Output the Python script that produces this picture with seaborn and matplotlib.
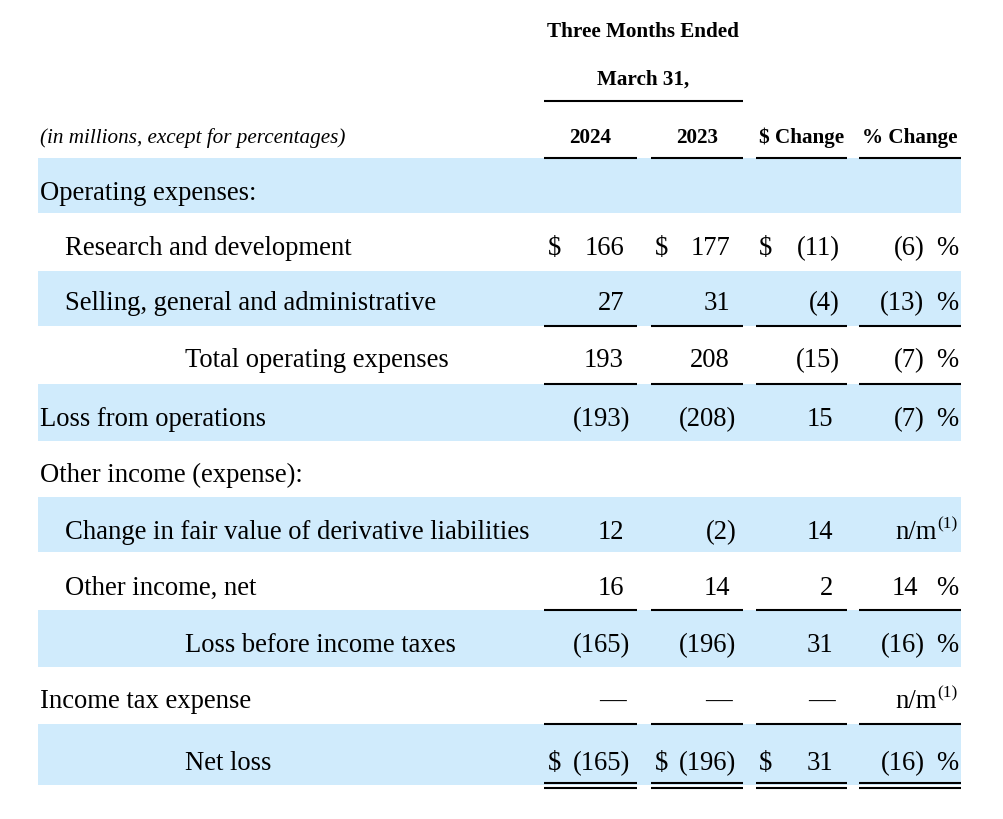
import matplotlib
matplotlib.use("Agg")
import matplotlib.pyplot as plt
import seaborn as sns
import pandas as pd

sns.set_theme(style="white")
plt.rcParams['font.family'] = ['Liberation Serif', 'DejaVu Serif']
plt.rcParams['text.color'] = 'black'

# table data
labels = ["Operating expenses:", "Research and development",
          "Selling, general and administrative", "Total operating expenses",
          "Loss from operations", "Other income (expense):",
          "Change in fair value of derivative liabilities", "Other income, net",
          "Loss before income taxes", "Income tax expense", "Net loss"]
indent = [0, 1, 1, 2, 0, 0, 1, 1, 2, 0, 2]
q2024 = [None, 166, 27, 193, -193, None, 12, 16, -165, 0, -165]
q2023 = [None, 177, 31, 208, -208, None, -2, 14, -196, 0, -196]
chg = [None, -11, -4, -15, 15, None, 14, 2, 31, 0, 31]
pct = [None, -6, -13, -7, -7, None, "n/m", 14, -16, "n/m", -16]
is_header = [True, False, False, False, False, True, False, False, False, False, False]
dollar_rows = [1, 10]
underlined = [2, 3, 7, 9]

df = pd.DataFrame({"label": labels, "indent": indent, "q2024": q2024,
                   "q2023": q2023, "chg": chg, "pct": pct, "header": is_header},
                  dtype=object)

# layout, pixel units
W, H = 1004, 820
baselines = [200, 255, 310, 367, 426, 482, 539, 595, 652, 708, 770]
bands = {0: (159, 214), 2: (272, 327), 4: (385, 442), 6: (498, 553),
         8: (611, 668), 10: (725, 786)}
indent_x = [40, 65, 185]
num_right = [624, 730, 833, 918]
dollar_x = [548, 655, 759]
col_spans = [(544, 637), (651, 743), (756, 847), (859, 961)]
shade = "#d0ebfc"
FS = 19.2
HFS = 15.2

fig = plt.figure(figsize=(W / 100, H / 100), dpi=100)
ax = fig.add_axes([0, 0, 1, 1])
ax.set_xlim(0, W)
ax.set_ylim(H, 0)
ax.axis("off")

for i, (top, bot) in bands.items():
    ax.axhspan(top, bot, xmin=38 / W, xmax=961 / W, color=shade, lw=0, zorder=0)

# header
ax.text(643, 37, "Three Months Ended", ha="center", va="baseline", fontsize=HFS, fontweight="bold")
ax.text(643, 85, "March 31,", ha="center", va="baseline", fontsize=HFS, fontweight="bold")
ax.hlines(102, 544, 743, color="black", lw=1.5)
ax.text(40, 143, "(in millions, except for percentages)", ha="left", va="baseline",
        fontsize=HFS, style="italic")
for (a, b), h in zip(col_spans, ["2024", "2023", "$ Change", "% Change"]):
    ax.text((a + b) / 2, 143, h, ha="center", va="baseline", fontsize=HFS, fontweight="bold")
    ax.hlines(159, a, b, color="black", lw=1.5, zorder=3)


def put_num(x, y, v):
    v = int(v)
    if v == 0:
        ax.text(x + 2, y, "\u2014", ha="right", va="baseline", fontsize=FS)
    elif v < 0:
        # closing paren hangs past the digit column
        ax.text(x + 6.4, y, f"({abs(v)})", ha="right", va="baseline", fontsize=FS)
    else:
        ax.text(x, y, str(v), ha="right", va="baseline", fontsize=FS)


for i, row in df.iterrows():
    y = baselines[i]
    ax.text(indent_x[row["indent"]], y, row["label"], ha="left", va="baseline", fontsize=FS)
    if row["header"]:
        continue
    for c, key in enumerate(["q2024", "q2023", "chg"]):
        put_num(num_right[c], y, row[key])
        if i in dollar_rows:
            ax.text(dollar_x[c], y, "$", ha="left", va="baseline", fontsize=FS)
    p = row["pct"]
    if p == "n/m":
        ax.text(937, y, "n/m", ha="right", va="baseline", fontsize=FS)
        ax.text(937, y - 11, "(1)", ha="left", va="baseline", fontsize=12.5)
    else:
        put_num(num_right[3], y, p)
        ax.text(936, y, "%", ha="left", va="baseline", fontsize=FS)

for i in underlined:
    yl = bands[i + 1][0] if (i + 1) in bands else baselines[i] + 17
    for a, b in col_spans:
        ax.hlines(yl, a, b, color="black", lw=1.5, zorder=3)

for yl in (783.5, 788.5):
    for a, b in col_spans:
        ax.hlines(yl, a, b, color="black", lw=1.5, zorder=3)

fig.savefig("out.png", dpi=100, facecolor="white")
